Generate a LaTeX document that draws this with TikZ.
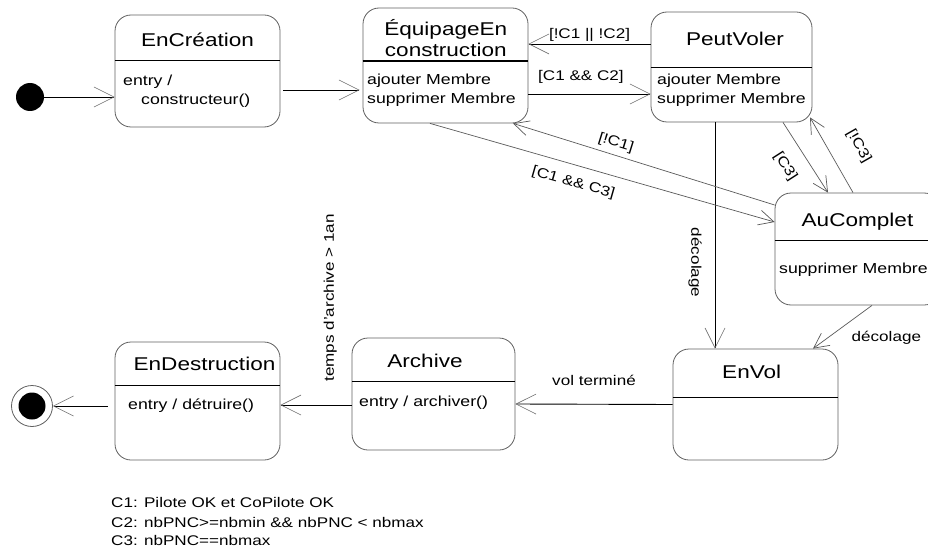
\documentclass[tikz,border=0pt]{standalone}
\usepackage{fontspec}
\setmainfont{Liberation Sans}[FakeStretch=1.22]
\usetikzlibrary{arrows.meta}
\tikzset{
	etat/.style={draw=gray!75!black,line width=0.8pt,rounded corners=16pt,inner sep=0pt},
	separ/.style={black,line width=1.2pt},
	titre/.style={font=\fontsize{18.5}{21}\selectfont,align=center,inner sep=0pt},
	corps/.style={font=\fontsize{14.5}{18.5}\selectfont,align=left,inner sep=0pt,anchor=north west},
	garde/.style={font=\fontsize{14}{16}\selectfont,inner sep=1pt},
	fleche/.style={line width=0.9pt,-{Straight Barb[length=20pt,width=20pt,line width=0.6pt,color=gray!85!black]}},
	flechediag/.style={draw=gray!70!black,line width=0.7pt,-{Straight Barb[length=15pt,width=15pt]}},
}
\begin{document}
\begin{tikzpicture}[x=1pt,y=-1pt]
			\clip (0,0) rectangle (928,548);
			\node [circle,fill=black,minimum size=28pt,inner sep=0pt] (init) at (30,97) {};
			\node [circle,draw=gray!75!black,line width=0.8pt,minimum size=41pt,inner sep=0pt] (final) at (32,406) {};
			\node [circle,fill=black,minimum size=27pt,inner sep=0pt] (finalC) at (final) {};
			\node [etat,minimum width=165pt,minimum height=112pt] (creation) at (197.5,71) {};
			\node [etat,minimum width=165pt,minimum height=115pt] (equipage) at (445.5,65.5) {};
			\node [etat,minimum width=161pt,minimum height=110pt] (peut) at (731.5,67) {};
			\node [etat,minimum width=165pt,minimum height=112pt] (aucomplet) at (857.5,249) {};
			\node [etat,minimum width=165pt,minimum height=111pt] (envol) at (755.5,404.5) {};
			\node [etat,minimum width=163pt,minimum height=112pt] (archive) at (433.5,394) {};
			\node [etat,minimum width=165pt,minimum height=118pt] (destruction) at (197.5,401) {};
			\draw [separ] ([yshift=-46pt]creation.north west) -- ([yshift=-46pt]creation.north east);
			\draw [separ] ([yshift=-53.5pt]equipage.north west) -- ([yshift=-53.5pt]equipage.north east);
			\draw [separ] ([yshift=-56pt]peut.north west) -- ([yshift=-56pt]peut.north east);
			\draw [separ] ([yshift=-48pt]aucomplet.north west) -- ([yshift=-48pt]aucomplet.north east);
			\draw [separ] ([yshift=-49pt]envol.north west) -- ([yshift=-49pt]envol.north east);
			\draw [separ] ([yshift=-44pt]archive.north west) -- ([yshift=-44pt]archive.north east);
			\draw [separ] ([yshift=-44pt]destruction.north west) -- ([yshift=-44pt]destruction.north east);
			\node [titre,anchor=base] (creationT) at (197.5,46.5) {EnCréation};
			\node [titre] (equipageT) at (445.8,38) {ÉquipageEn\\construction};
			\node [titre,anchor=base] (peutT) at (735,45.5) {PeutVoler};
			\node [titre,anchor=base] (aucompletT) at (857.5,226.5) {AuComplet};
			\node [titre,anchor=base] (envolT) at (751.7,378.5) {EnVol};
			\node [titre,anchor=base] (archiveT) at (425,367.5) {Archive};
			\node [titre,anchor=base] (destructionT) at (204.5,370.5) {EnDestruction};
			\node [corps] (creationB) at (123,75) {entry /\\\hspace*{18pt}constructeur()};
			\node [corps] (equipageB) at (367,74) {ajouter Membre\\supprimer Membre};
			\node [corps] (peutB) at (657,74) {ajouter Membre\\supprimer Membre};
			\node [corps] (aucompletB) at (779,263) {supprimer Membre};
			\node [corps] (archiveB) at (359,396) {entry / archiver()};
			\node [corps] (destructionB) at (128,399) {entry / détruire()};
			\draw [fleche] (init.east) -- (init.east -| creation.west);
			\draw [fleche] ([xshift=3pt,yshift=-19pt]creation.east) -- ([xshift=-3pt,yshift=-24.5pt]equipage.west);
			\draw [fleche] ([yshift=-28.5pt]equipage.east) -- ([yshift=-27pt]peut.west) node [garde,above=9pt,pos=.43] {[C1 \&\& C2]};
			\draw [fleche] ([yshift=23pt]peut.west) -- ([yshift=21.5pt]equipage.east) node [garde,above=1pt,pos=.5] {[!C1 || !C2]};
			\draw [fleche] ([xshift=-16.5pt]peut.south) -- ([xshift=-40.5pt]envol.north) node [garde,sloped,below=12pt,pos=.62] {décolage};
			\draw [flechediag] ([xshift=51.5pt]peut.south) -- ([xshift=-29.5pt]aucomplet.north) node [garde,sloped,below=14pt,pos=.46] {[C3]};
			\draw [flechediag] ([xshift=-4.5pt]aucomplet.north) -- ([xshift=78.5pt,yshift=5pt]peut.south) node [garde,sloped,above=20pt,pos=.43] {[!C3]};
			\draw [flechediag] ([yshift=44pt]aucomplet.west) -- ([xshift=67.5pt]equipage.south) node [garde,sloped,above=4pt,pos=.62] {[!C1]};
			\draw [flechediag] ([xshift=-15.5pt]equipage.south) -- ([yshift=27pt]aucomplet.west) node [garde,sloped,below=10pt,pos=.43] {[C1 \&\& C3]};
			\draw [flechediag] ([xshift=14.5pt]aucomplet.south) -- ([xshift=57.5pt]envol.north) node [garde,pos=.74,right=22pt] {décolage};
			\draw [fleche] (envol.west) -- ([yshift=-10pt]archive.east) node [garde,above=17pt,midway] {vol terminé};
			\draw [fleche] ([yshift=-11pt]archive.west) -- ([yshift=-4pt]destruction.east) node [garde,pos=.3,rotate=90,anchor=west,xshift=22pt] {temps d'archive > 1an};
			\draw [fleche] ([xshift=-7pt,yshift=-5pt]destruction.west) -- (final.east);
			\node [garde,anchor=west] (legC1) at (110,502) {C1: Pilote OK et CoPilote OK};
			\node [garde,anchor=west] (legC2) at (110,522) {C2: nbPNC>=nbmin \&\& nbPNC < nbmax};
			\node [garde,anchor=west] (legC3) at (110,540) {C3: nbPNC==nbmax};
		\end{tikzpicture}
\end{document}
